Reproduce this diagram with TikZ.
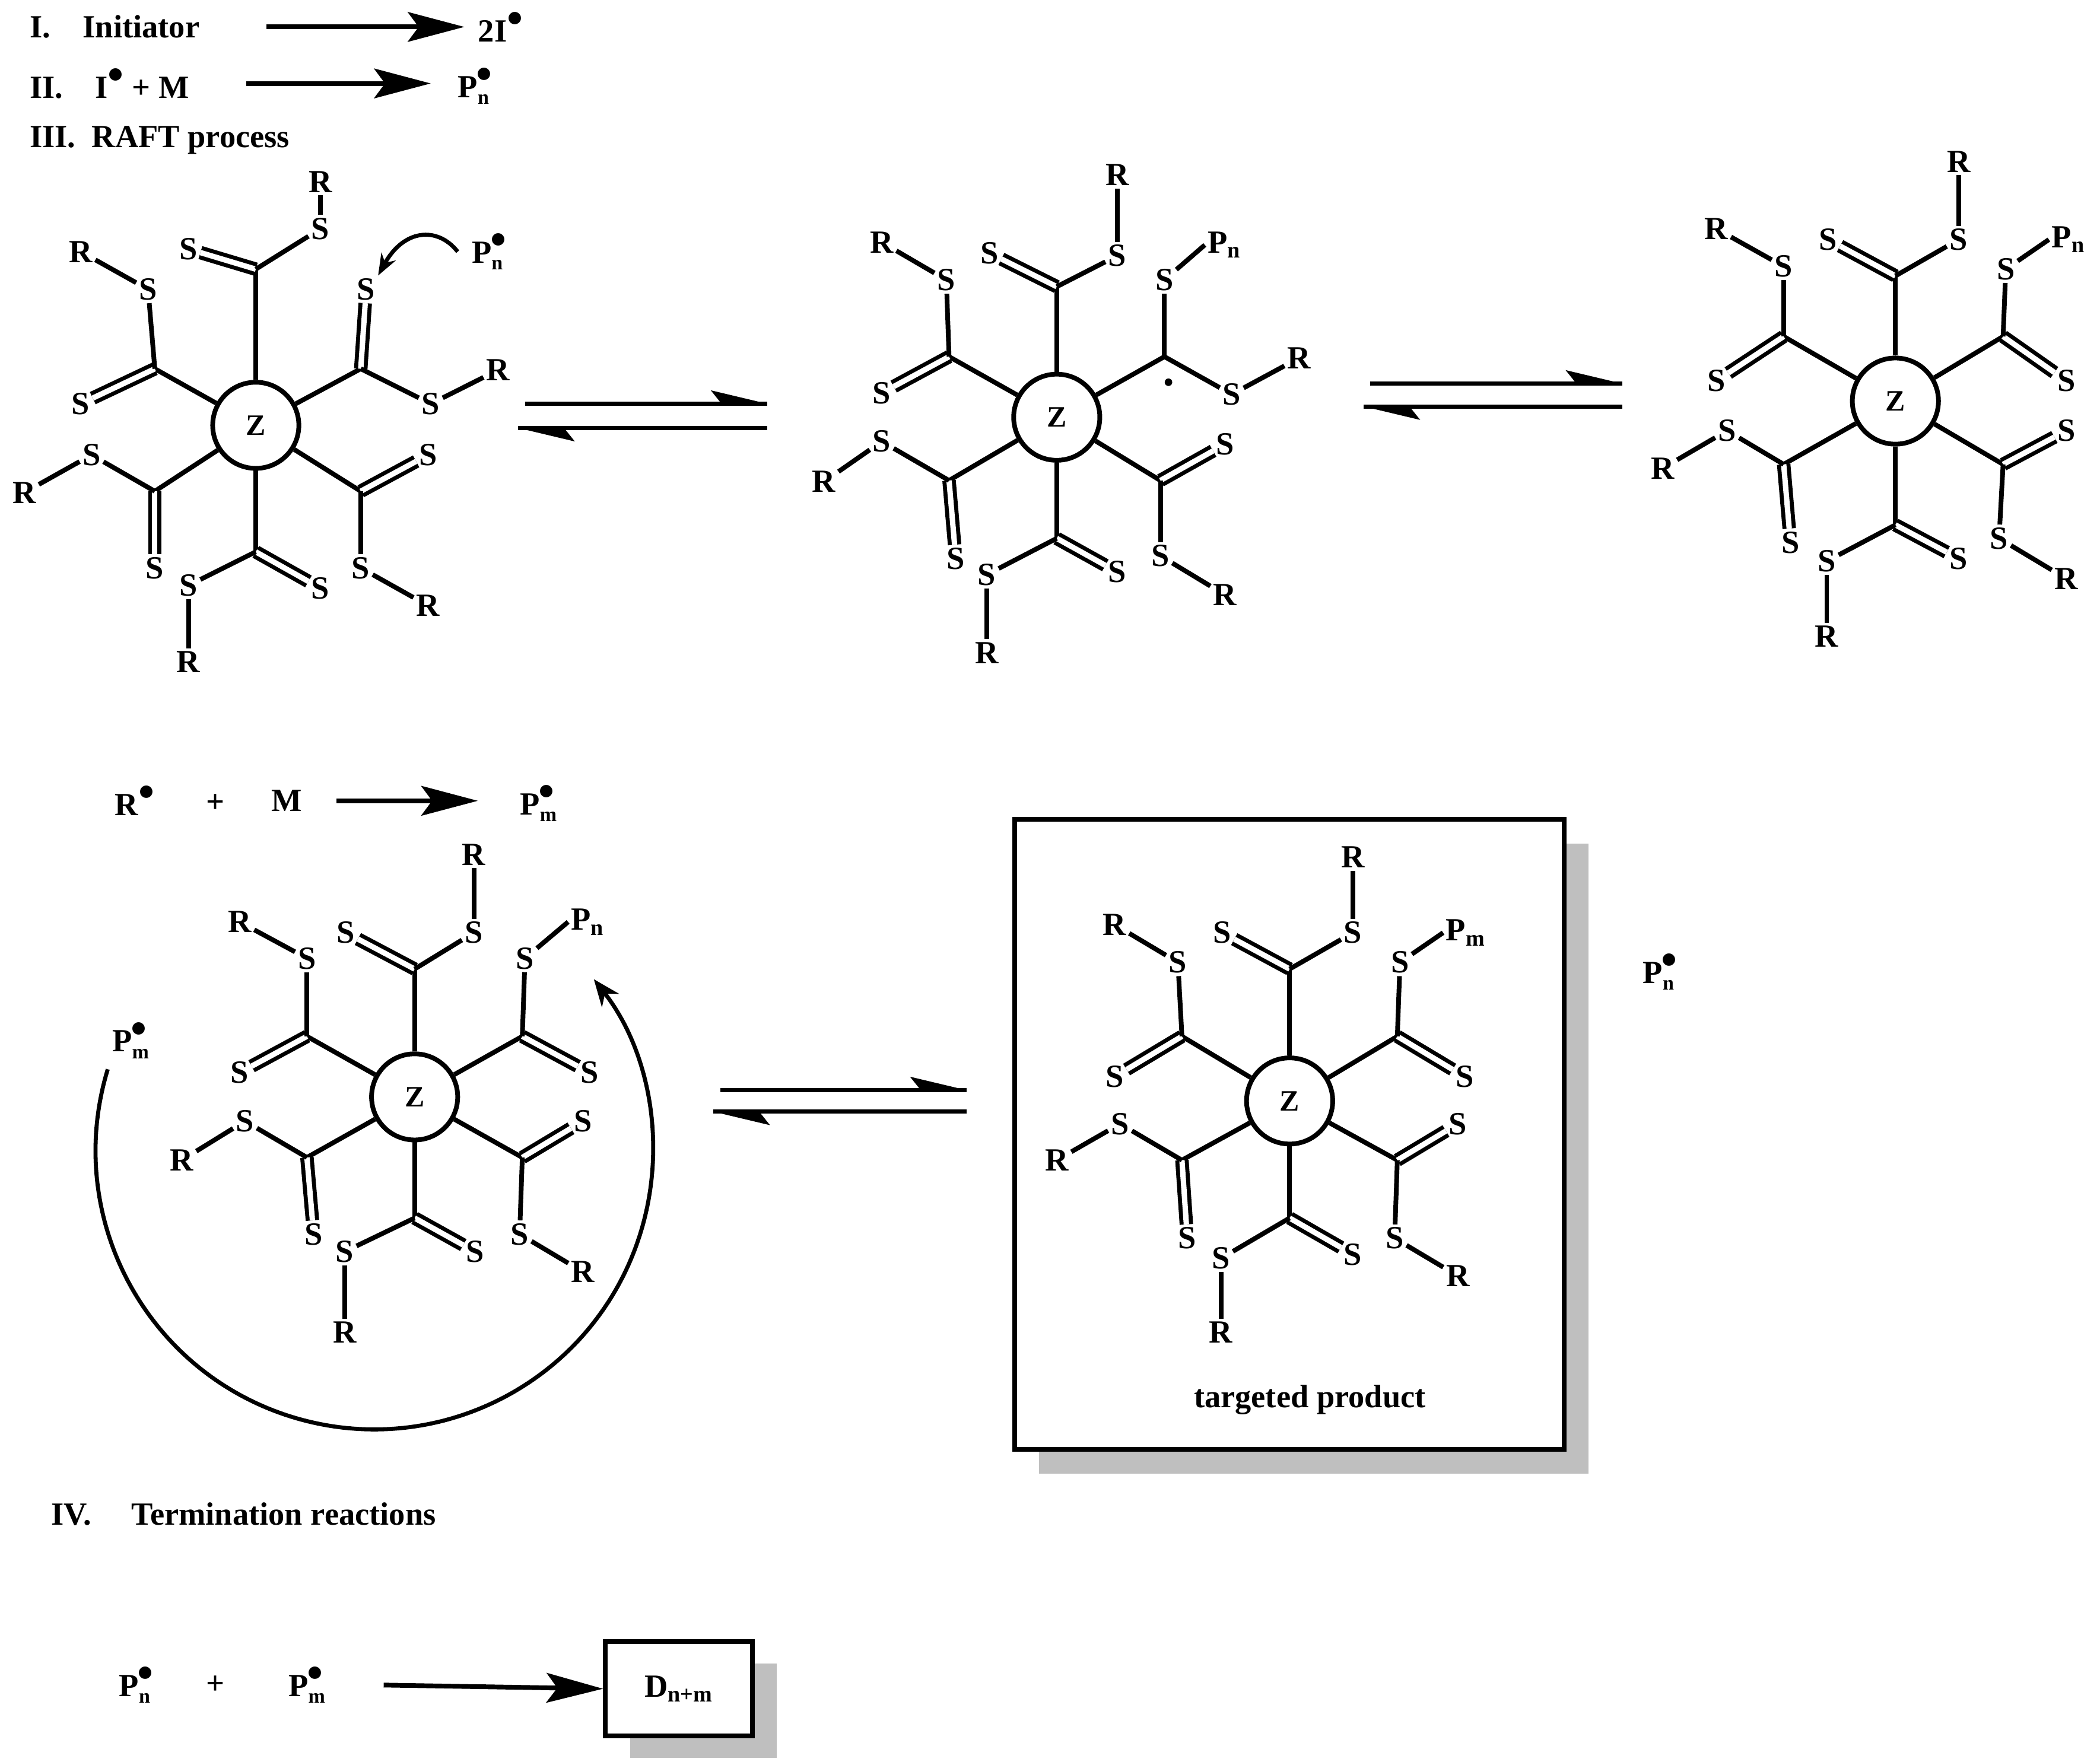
\documentclass[tikz,border=0pt]{standalone}
\usepackage{fontspec}
\setmainfont{Liberation Serif}
\usetikzlibrary{arrows.meta}
\newcommand\bul{\raisebox{0.55ex}{\fontsize{34}{34}\selectfont •}}
\newcommand\rad[2]{#1\rlap{\kern-1pt\bul}\raisebox{-0.45ex}{\fontsize{15}{15}\selectfont #2}}
\newcommand\harps[4]{%
 \draw[line width=3pt] (#1,#3) -- (#2,#3);
 \fill (#2,#3) -- (#2-42,#3-10) -- (#2-34,#3) -- cycle;
 \draw[line width=3pt] (#1-5,#4) -- (#2,#4);
 \fill (#1-5,#4) -- (#1+37,#4+10) -- (#1+29,#4) -- cycle;
}
\newcommand\arm[7]{%
 \coordinate (#2c) at (#3);
 \node[atom] (#2d) at (#4) {S};
 \node[atom] (#2s) at (#5) {S};
 \node[atom] (#2r) at (#6) {#7};
 \draw[bond] (#1) -- (#2c);
 \draw[dbl] (#2c) -- (#2d);
 \draw[bond] (#2c) -- (#2s);
 \draw[bond] (#2s) -- (#2r);
}
\tikzset{
 atom/.style={font=\fontsize{24}{28}\selectfont\bfseries, inner sep=2pt},
 lbl/.style={font=\fontsize{24}{28}\selectfont\bfseries, inner sep=0pt},
 bond/.style={line width=3.5pt},
 dbl/.style={line width=3pt, double distance=4pt},
 zc/.style={circle, draw, line width=3.5pt, minimum size=64pt, fill=white, font=\fontsize{22}{26}\selectfont\bfseries},
 rarrow/.style={line width=3.5pt, -{Stealth[length=42pt,width=22pt,inset=8pt]}},
}
\begin{document}
\begin{tikzpicture}[x=1pt,y=-1pt]
\useasboundingbox (0,0) rectangle (1560,1309);
% header
\node[lbl,anchor=west] (t1) at (22,20) {I.\quad Initiator};
\node[lbl,anchor=west] (t1r) at (355,20) {2I\bul};
\draw[rarrow] (198,20) -- (345,20);
\node[lbl,anchor=west] (t2) at (22,62) {II.\quad I\bul\ + M};
\node[lbl,anchor=west] (t2r) at (340,64) {\rad{P}{n}};
\draw[rarrow] (183,62) -- (320,62);
\node[lbl,anchor=west] (t3) at (22,104) {III.\ \ RAFT process};
% molecule 1
\node[zc] (Z1) at (190,316) {Z};
\arm{Z1}{a1}{190,200}{140,185}{238,170}{238,135}{R}
\arm{Z1}{b1}{268,274}{272,215}{320,300}{370,275}{R}
\arm{Z1}{c1}{268,365}{318,338}{268,422}{318,450}{R}
\arm{Z1}{d1}{190,410}{238,437}{140,435}{140,492}{R}
\arm{Z1}{e1}{115,365}{115,422}{68,338}{18,366}{R}
\arm{Z1}{f1}{115,274}{60,300}{110,215}{60,187}{R}
\node[lbl] (pn1) at (362,187) {\rad{P}{n}};
\draw[line width=3pt,-{Stealth[length=16pt,width=12pt]}] (340,187) .. controls (325,168) and (300,170) .. (b1d.north east);
% eq arrows 1
\harps{390}{570}{300}{318}
% molecule 2
\node[zc] (Z2) at (785,310) {Z};
\arm{Z2}{a2}{785,213}{735,188}{830,190}{830,130}{R}
\arm{Z2}{f2}{705,265}{655,292}{703,208}{655,180}{R}
\arm{Z2}{e2}{705,357}{710,415}{655,328}{612,358}{R}
\arm{Z2}{d2}{785,400}{830,425}{733,427}{733,485}{R}
\arm{Z2}{c2}{862,357}{910,330}{862,413}{910,442}{R}
\coordinate (b2c) at (865,265);
\node[atom] (b2s) at (865,208) {S};
\node[atom,anchor=west] (b2p) at (895,182) {P\textsubscript{n}};
\node[atom] (b2t) at (915,293) {S};
\node[atom] (b2r) at (965,266) {R};
\draw[bond] (Z2) -- (b2c);
\draw[bond] (b2c) -- (b2s);
\draw[bond] (b2s) -- (b2p.west);
\draw[bond] (b2c) -- (b2t);
\draw[bond] (b2t) -- (b2r);
\fill (868,284) circle (2.8pt);
% eq arrows 2
\harps{1018}{1205}{285}{302}
% molecule 3
\node[zc] (Z3) at (1408,298) {Z};
\arm{Z3}{a3}{1408,205}{1358,178}{1455,178}{1455,120}{R}
\arm{Z3}{f3}{1325,250}{1275,283}{1325,198}{1275,170}{R}
\arm{Z3}{e3}{1325,345}{1330,403}{1283,320}{1235,348}{R}
\arm{Z3}{d3}{1408,390}{1455,415}{1357,417}{1357,473}{R}
\arm{Z3}{c3}{1488,345}{1535,320}{1485,400}{1535,430}{R}
\coordinate (b3c) at (1488,250);
\node[atom] (b3d) at (1535,283) {S};
\node[atom] (b3s) at (1490,200) {S};
\node[atom,anchor=west] (b3p) at (1522,178) {P\textsubscript{n}};
\draw[bond] (Z3) -- (b3c);
\draw[dbl] (b3c) -- (b3d);
\draw[bond] (b3c) -- (b3s);
\draw[bond] (b3s) -- (b3p.west);
% R + M -> Pm
\node[lbl] (rr) at (100,595) {R\bul};
\node[lbl] (pl) at (160,597) {+};
\node[lbl] (mm) at (213,595) {M};
\node[lbl] (pm0) at (400,597) {\rad{P}{m}};
\draw[rarrow] (250,595) -- (355,595);
% molecule 4
\node[zc] (Z4) at (308,815) {Z};
\arm{Z4}{a4}{308,720}{257,693}{352,693}{352,635}{R}
\arm{Z4}{f4}{228,770}{178,797}{228,712}{178,685}{R}
\arm{Z4}{e4}{228,860}{233,917}{182,833}{135,862}{R}
\arm{Z4}{d4}{308,905}{353,930}{256,930}{256,990}{R}
\arm{Z4}{c4}{388,860}{433,833}{386,917}{433,945}{R}
\coordinate (b4c) at (388,770);
\node[atom] (b4d) at (438,797) {S};
\node[atom] (b4s) at (390,712) {S};
\node[atom,anchor=west] (b4p) at (422,685) {P\textsubscript{n}};
\draw[bond] (Z4) -- (b4c);
\draw[dbl] (b4c) -- (b4d);
\draw[bond] (b4c) -- (b4s);
\draw[bond] (b4s) -- (b4p.west);
\node[lbl] (pm1) at (97,773) {\rad{P}{m}};
\draw[line width=3pt,-{Stealth[length=20pt,width=16pt]}] (278,855) ++(197:207) arc[start angle=197,end angle=-38,radius=207];
% eq arrows 3
\harps{535}{718}{810}{826}
% box
\fill[black!25] (772,627) rectangle (1180,1095);
\node[draw,line width=3.5pt,fill=white,minimum width=408pt,minimum height=468pt,anchor=north west] (box) at (752,607) {};
\node[zc] (Z5) at (958,818) {Z};
\arm{Z5}{a5}{958,720}{908,693}{1005,693}{1005,637}{R}
\arm{Z5}{f5}{878,770}{828,800}{875,715}{828,687}{R}
\arm{Z5}{e5}{878,862}{882,920}{832,835}{785,862}{R}
\arm{Z5}{d5}{958,905}{1005,932}{907,935}{907,990}{R}
\arm{Z5}{c5}{1038,862}{1083,835}{1036,920}{1083,948}{R}
\coordinate (b5c) at (1038,770);
\node[atom] (b5d) at (1088,800) {S};
\node[atom] (b5s) at (1040,715) {S};
\node[atom,anchor=west] (b5p) at (1072,693) {P\textsubscript{m}};
\draw[bond] (Z5) -- (b5c);
\draw[dbl] (b5c) -- (b5d);
\draw[bond] (b5c) -- (b5s);
\draw[bond] (b5s) -- (b5p.west);
\node[lbl] (tp) at (973,1040) {targeted product};
\node[lbl] (pn2) at (1232,722) {\rad{P}{n}};
% termination
\node[lbl,anchor=west] (t4) at (38,1125) {IV.\quad\ Termination reactions};
\node[lbl] (pn3) at (100,1252) {\rad{P}{n}};
\node[lbl] (pl2) at (160,1252) {+};
\node[lbl] (pm3) at (228,1252) {\rad{P}{m}};
\fill[black!25] (468,1236) rectangle (577,1306);
\node[draw,line width=3.5pt,fill=white,minimum width=109pt,minimum height=70pt,anchor=north west,font=\fontsize{24}{28}\selectfont\bfseries] (dbox) at (448,1218) {D\textsubscript{n+m}};
\draw[rarrow] (285,1252) -- (dbox.west);
\end{tikzpicture}
\end{document}
